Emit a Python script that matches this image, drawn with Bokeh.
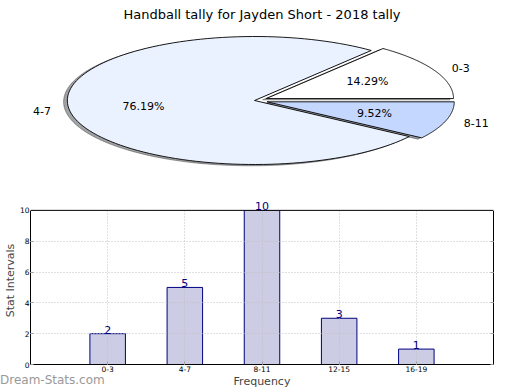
import numpy as np
from bokeh.plotting import figure
from bokeh.layouts import column
from bokeh.models import (Range1d, ColumnDataSource, LabelSet, Div,
                          FixedTicker, LinearAxis, Span, BoxAnnotation)
from bokeh.core.properties import value
from bokeh.embed import file_html
from bokeh.resources import INLINE

# ---------------- data ----------------
pie_labels = ["0-3", "4-7", "8-11"]
pie_values = [3, 16, 2]
pie_colors = ["#ffffff", "#ebf2ff", "#c4d7ff"]
pie_explode = [0.07, 0.0, 0.07]

bar_categories = ["0-3", "4-7", "8-11", "12-15", "16-19"]
bar_values = [2, 5, 10, 3, 1]
y_ticks = [0, 2, 4, 6, 8, 10]

FONT = "DejaVu Sans"
W = 520
PIE_H = 185
BAR_H = 390 - PIE_H
BL, BR = 28, 27            # left / right borders shared by both frames
WM_H = 17                  # watermark strip, overlapped onto the bar figure

# ---------------- pie ----------------
RX, RY = 188.0, 64.0        # px per unit radius (elliptical pie)
TITLE_H = 24
CX, CY = 253.0, 100.0       # pie centre in page px

pp = figure(width=W, height=PIE_H, output_backend="svg", toolbar_location=None,
            x_axis_location=None, y_axis_location=None,
            x_range=Range1d(-(CX - BL) / RX, (W - BR - CX) / RX),
            y_range=Range1d(-(PIE_H - CY) / RY, (CY - TITLE_H) / RY),
            min_border_left=BL, min_border_right=BR, min_border_top=TITLE_H,
            min_border_bottom=0,
            title="Handball tally for Jayden Short - 2018 tally")
pp.grid.visible = False
pp.outline_line_color = None
pp.title.text_font = FONT
pp.title.text_font_size = "13px"
pp.title.text_font_style = "normal"
pp.title.text_color = "black"
pp.title.align = "center"
pp.title.vertical_align = "top"
pp.title.standoff = 1

total = float(sum(pie_values))
start = 0.0
wx, wy, sx, sy, fills, shad = [], [], [], [], [], []
lx, ly, lal, px, py, pct = [], [], [], [], [], []
for lab, v, col, ex in zip(pie_labels, pie_values, pie_colors, pie_explode):
    t1 = start
    t2 = start + 360.0 * v / total
    mid = np.radians((t1 + t2) / 2)
    ox, oy = ex * np.cos(mid), ex * np.sin(mid)
    ts = np.radians(np.linspace(t1, t2, 120))
    xs = [ox] + list(ox + np.cos(ts)) + [ox]
    ys = [oy] + list(oy + np.sin(ts)) + [oy]
    wx.append(xs); wy.append(ys)
    sx.append([x - 0.02 for x in xs]); sy.append([y - 0.02 for y in ys])
    fills.append(col)
    rgb = tuple(int(col[i:i + 2], 16) for i in (1, 3, 5))
    shad.append("#%02x%02x%02x" % tuple(int(0.3 * c) for c in rgb))
    lx.append(ox + 1.1 * np.cos(mid)); ly.append(oy + 1.1 * np.sin(mid))
    lal.append("left" if np.cos(mid) > 0 else "right")
    px.append(ox + 0.6 * np.cos(mid)); py.append(oy + 0.6 * np.sin(mid))
    pct.append("%.2f%%" % (100.0 * v / total))
    start = t2

pp.patches(sx, sy, fill_color=shad, line_color=shad, fill_alpha=0.5, line_alpha=0.5)
pp.patches(wx, wy, fill_color=fills, line_color="black", line_width=0.9)

lsrc = ColumnDataSource(dict(x=lx, y=ly, t=pie_labels, a=lal))
pp.add_layout(LabelSet(x="x", y="y", text="t", text_align="a", source=lsrc,
                       text_baseline="middle", text_font=value(FONT),
                       text_font_size="11px", text_color="black"))
psrc = ColumnDataSource(dict(x=px, y=py, t=pct))
pp.add_layout(LabelSet(x="x", y="y", text="t", text_align="center", source=psrc,
                       text_baseline="middle", text_font=value(FONT),
                       text_font_size="11px", text_color="black"))

# ---------------- bars ----------------
ymax = max(bar_values)
xs_bar = list(range(len(bar_categories)))
pb = figure(width=W, height=BAR_H, output_backend="svg", toolbar_location=None,
            x_range=Range1d(-1, len(bar_categories)),
            y_range=Range1d(0, ymax * 1.09),
            min_border_top=196 - PIE_H, min_border_right=BR, min_border_left=BL,
            min_border_bottom=0)
pb.outline_line_color = None
bsrc = ColumnDataSource(dict(x=xs_bar, top=bar_values,
                             t=[str(v) for v in bar_values]))
pb.vbar(x="x", top="top", width=0.46, source=bsrc,
        fill_color="#ccccE4", line_color="#000080", line_width=1)

pb.xaxis.ticker = FixedTicker(ticks=xs_bar)
pb.xaxis.major_label_overrides = {i: c for i, c in zip(xs_bar, bar_categories)}
pb.yaxis.ticker = FixedTicker(ticks=y_ticks)
pb.yaxis.bounds = (0, ymax)
pb.xgrid.ticker = FixedTicker(ticks=xs_bar)
pb.ygrid.ticker = FixedTicker(ticks=y_ticks)
for g in (pb.xgrid, pb.ygrid):
    g.grid_line_color = "#c0c0c0"
    g.grid_line_dash = "1 2"
    g.grid_line_width = 1
    g.level = "guide"

for ax in (pb.xaxis, pb.yaxis):
    ax.major_label_text_font = FONT
    ax.major_label_text_font_size = "7.5px"
    ax.major_label_text_color = "black"
    ax.major_label_standoff = 1
    ax.major_tick_in = 3
    ax.major_tick_out = 0
    ax.major_tick_line_color = "#999999"
    ax.minor_tick_line_color = None
    ax.axis_line_color = "black"
    ax.axis_label_text_font = FONT
    ax.axis_label_text_font_size = "11px"
    ax.axis_label_text_font_style = "normal"
    ax.axis_label_standoff = 0
pb.xaxis.axis_label = "Frequency"
pb.yaxis.axis_label = "Stat Intervals"

rax = LinearAxis(ticker=FixedTicker(ticks=[], minor_ticks=y_ticks), bounds=(0, ymax),
                 axis_line_color="black", minor_tick_in=3, minor_tick_out=0,
                 minor_tick_line_color="#999999", major_tick_line_color=None,
                 major_label_standoff=0)
pb.add_layout(rax, "right")

# mask above the top of the data box, then the box's top edge, then value labels
pb.add_layout(BoxAnnotation(bottom=ymax, fill_color="white", fill_alpha=1.0,
                            line_color=None))
pb.add_layout(Span(location=ymax, dimension="width", line_color="black",
                   line_width=1))
pb.add_layout(LabelSet(x="x", y="top", text="t", source=bsrc,
                       text_align="center", text_baseline="bottom",
                       text_font=value(FONT), text_font_size="11px",
                       text_color="#000080"))

wm = Div(text="Dream-Stats.com", width=120, height=WM_H, margin=(-WM_H, 0, 0, 0),
         styles={"color": "#999999", "font-family": FONT, "font-size": "12px",
                 "line-height": "14px", "white-space": "nowrap"})

layout = column(pp, pb, wm, spacing=0)
open("out.html", "w").write(file_html(layout, INLINE))
